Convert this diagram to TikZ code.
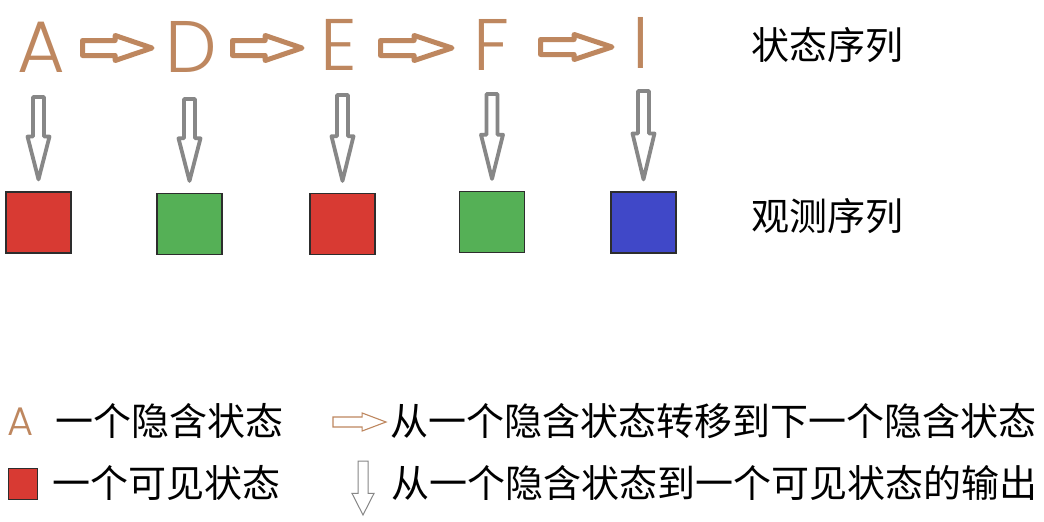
\documentclass[tikz,border=0pt]{standalone}
\usepackage{fontspec}
\setmainfont{Noto Sans CJK SC}
\newfontfamily\cjk{Noto Sans CJK SC}
\newfontfamily\latf{Poppins Light}
\usetikzlibrary{calc}
\definecolor{hid}{RGB}{190,135,95}
\definecolor{outgray}{RGB}{135,135,135}
\definecolor{obsred}{RGB}{216,58,51}
\definecolor{obsgreen}{RGB}{85,176,86}
\definecolor{obsblue}{RGB}{64,72,200}
\definecolor{edge}{RGB}{45,45,45}
% generic hollow block arrow: style, start, end, half shaft, half head, head start fraction
\newcommand{\blockarr}[6]{%
  \draw[#1] ($(#2)!#4!90:(#3)$) -- ($(#2)!#6!(#3)!#4!90:(#3)$) -- ($(#2)!#6!(#3)!#5!90:(#3)$)
    -- (#3) -- ($(#2)!#6!(#3)!#5!-90:(#3)$) -- ($(#2)!#6!(#3)!#4!-90:(#3)$) -- ($(#2)!#4!-90:(#3)$) -- cycle;}
\begin{document}
\begin{tikzpicture}[x=1pt,y=-1pt,
  letter/.style={inner sep=0pt, anchor=base, text=hid, font=\latf\fontsize{73}{73}\selectfont},
  obs/.style={draw=edge, line width=1.2pt, minimum width=65pt, minimum height=61pt, inner sep=0pt},
  lab/.style={inner sep=0pt, anchor=west, font=\cjk\fontsize{38}{38}\selectfont},
  trans/.style={draw=hid, fill=white, line width=5pt, line join=round},
  emit/.style={draw=outgray, fill=white, line width=3.8pt, line join=round},
  ltrans/.style={draw=hid, fill=white, line width=1.1pt},
  lemit/.style={draw=outgray, fill=white, line width=1pt}]
\useasboundingbox (0,0) rectangle (1044,522);
\fill[white] (0,0) rectangle (1044,522);
% hidden states
\node[letter] (A) at (41,72) {A};
\node[letter] (D) at (191,72) {D};
\node[letter] (E) at (339,70) {E};
\node[letter] (F) at (491,70) {F};
\node[letter] (I) at (641,68) {I};
% observations
\node[obs, fill=obsred]   (s1) at (38.5,222.5) {};
\node[obs, fill=obsgreen] (s2) at (189.5,224) {};
\node[obs, fill=obsred]   (s3) at (342.5,224) {};
\node[obs, fill=obsgreen] (s4) at (492,222) {};
\node[obs, fill=obsblue]  (s5) at (643.5,222.5) {};
% labels
\node[lab] (l1) at (751,45) {状态序列};
\node[lab] (l2) at (751,216) {观测序列};
% transitions
\coordinate (t1s) at ($(A.base)+(41.5,-24)$);
\coordinate (t1e) at ($(D.base)+(-39,-24)$);
\coordinate (t2s) at ($(D.base)+(41.5,-24)$);
\coordinate (t2e) at ($(E.base)+(-37,-22)$);
\coordinate (t3s) at ($(E.base)+(41.5,-22)$);
\coordinate (t3e) at ($(F.base)+(-39,-22)$);
\coordinate (t4s) at ($(F.base)+(49.5,-23)$);
\coordinate (t4e) at ($(I.base)+(-29,-21)$);
\blockarr{trans}{t1s}{t1e}{7.5pt}{12.5pt}{0.47}
\blockarr{trans}{t2s}{t2e}{7.5pt}{12.5pt}{0.47}
\blockarr{trans}{t3s}{t3e}{7.5pt}{12.5pt}{0.47}
\blockarr{trans}{t4s}{t4e}{7.5pt}{12.5pt}{0.47}
% emissions
\foreach \l/\s/\dy in {A/s1/25, D/s2/27, E/s3/25, F/s4/24, I/s5/23}{
  \coordinate (\l top) at ($(\s.north |- \l.base)+(0,\dy)$);
  \coordinate (\l tip) at ($(\s.north)+(0,-12)$);
  \blockarr{emit}{\l top}{\l tip}{5.5pt}{11pt}{0.48}
}
% legend
\node[inner sep=0pt, anchor=base, text=hid, font=\latf\fontsize{40}{40}\selectfont] (lgA) at (21,435) {A};
\node[lab] (lg1) at (55,421) {一个隐含状态};
\node[draw=edge, line width=1pt, fill=obsred, minimum width=29pt, minimum height=31pt, inner sep=0pt] (lgS) at (22.5,484) {};
\node[lab] (lg2) at (52,483) {一个可见状态};
\coordinate (lrs) at (333,422);
\coordinate (lre) at (386,422);
\blockarr{ltrans}{lrs}{lre}{5pt}{9pt}{0.55}
\node[lab] (lg3) at (390,421) {从一个隐含状态转移到下一个隐含状态};
\coordinate (lds) at (363,461);
\coordinate (lde) at (363,515);
\blockarr{lemit}{lds}{lde}{5pt}{11pt}{0.6}
\node[lab] (lg4) at (391,483) {从一个隐含状态到一个可见状态的输出};
\end{tikzpicture}
\end{document}
